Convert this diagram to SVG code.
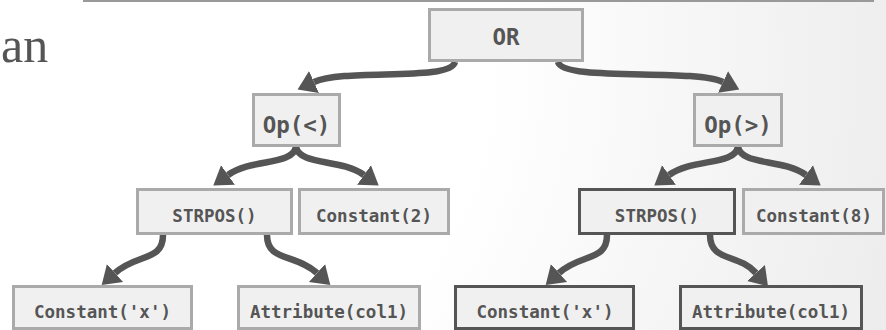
<svg xmlns="http://www.w3.org/2000/svg" width="886" height="330" viewBox="0 0 886 330">
<defs>
<radialGradient id="bg" gradientUnits="userSpaceOnUse" cx="120" cy="60" r="820">
<stop offset="0" stop-color="#ffffff"/>
<stop offset="0.45" stop-color="#ffffff"/>
<stop offset="1" stop-color="#ececec"/>
</radialGradient>
<marker id="ah" markerUnits="userSpaceOnUse" markerWidth="19" markerHeight="26" viewBox="0 -13 19 26" refX="0" refY="0" orient="auto">
<path d="M0,-12 L18,0 L0,12 z" fill="#555555"/>
</marker>
<style>
.box rect{fill:#f0f0f0;stroke:#aaaaaa;stroke-width:3}
.dark rect{stroke:#555555}
.box text{font-family:"DejaVu Sans Mono","Liberation Mono",monospace;font-weight:bold;fill:#555555;text-anchor:middle;font-size:17.5px}
.big text{font-size:22.5px}
#connectors path{fill:none;stroke:#555555;stroke-width:6.5;marker-end:url(#ah)}
</style>
</defs>
<rect x="0" y="0" width="886" height="330" fill="url(#bg)"/>
<line x1="83" y1="1" x2="874" y2="1" stroke="#999999" stroke-width="2"/>
<text x="1" y="62" font-family="Liberation Serif, serif" font-size="50" fill="#555555">an</text>
<g id="connectors">
<path d="M455,62 C450,82 345,68 314,82"/>
<path d="M558,62 C563,82 693,68 723,82"/>
<path d="M296,147 C292,166 252,158 228,175"/>
<path d="M296,147 C300,166 340,158 364,175"/>
<path d="M738,147 C734,166 693,158 669,175"/>
<path d="M738,147 C742,166 782,158 806,175"/>
<path d="M163,235 C163,262 137,253 115,273"/>
<path d="M267,235 C267,262 295,253 317,273"/>
<path d="M607,235 C607,262 581,253 559,273"/>
<path d="M710,235 C710,262 738,253 756,273"/>
</g>
<g id="or" class="box big"><rect x="429.5" y="9.5" width="153" height="51"/><text x="506" y="45">OR</text></g>
<g id="op-lt" class="box big"><rect x="253.5" y="94.5" width="86" height="51"/><text x="296.5" y="133">Op(&lt;)</text></g>
<g id="op-gt" class="box big"><rect x="694.5" y="94.5" width="87" height="51"/><text x="738" y="133">Op(&gt;)</text></g>
<g id="strpos-l" class="box"><rect x="137.5" y="189.5" width="154" height="44"/><text x="214.5" y="222">STRPOS()</text></g>
<g id="const-2" class="box"><rect x="299.5" y="189.5" width="149" height="44"/><text x="374" y="222">Constant(2)</text></g>
<g id="strpos-r" class="box dark"><rect x="579.5" y="189.5" width="155" height="44"/><text x="657" y="222">STRPOS()</text></g>
<g id="const-8" class="box"><rect x="743.5" y="189.5" width="140" height="44"/><text x="814" y="222">Constant(8)</text></g>
<g id="const-x-l" class="box"><rect x="13.5" y="286.5" width="178" height="42"/><text x="102.5" y="318">Constant('x')</text></g>
<g id="attr-l" class="box"><rect x="238.5" y="286.5" width="181" height="42"/><text x="329" y="318">Attribute(col1)</text></g>
<g id="const-x-r" class="box dark"><rect x="455.5" y="286.5" width="178" height="42"/><text x="545" y="318">Constant('x')</text></g>
<g id="attr-r" class="box dark"><rect x="680.5" y="286.5" width="181" height="42"/><text x="771" y="318">Attribute(col1)</text></g>
</svg>
